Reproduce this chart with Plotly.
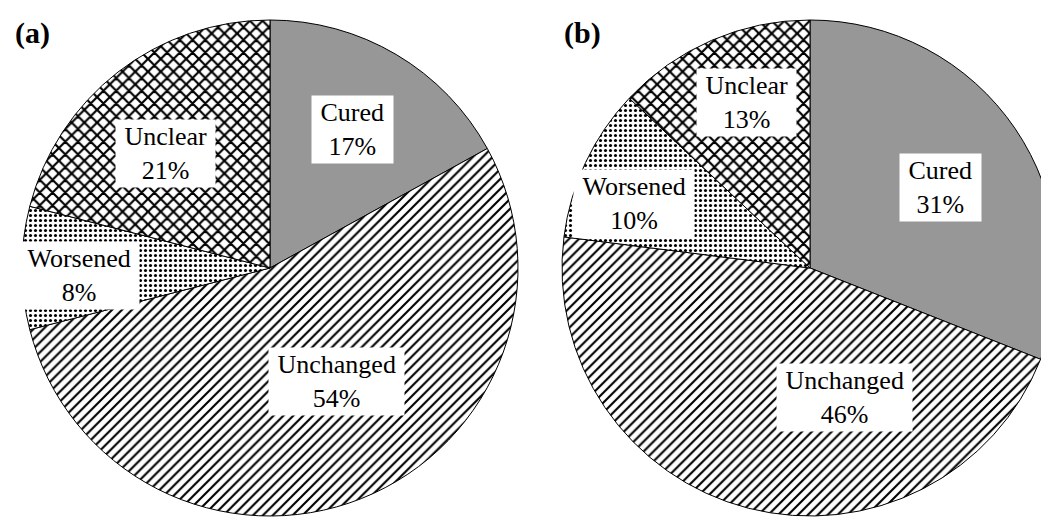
import plotly.graph_objects as go

categories = ["Cured", "Unchanged", "Worsened", "Unclear"]
values_a = [17, 54, 8, 21]
values_b = [31, 46, 10, 13]
panel_labels = ["(a)", "(b)"]

# the html body adds an 8px margin, so figure coords = screen coords - 8
W, H = 1050, 517
FONT = "Times New Roman, Liberation Serif, serif"

# slice styling (order follows categories)
fill_colors = ["#979797", "white", "white", "white"]
shapes = ["", "/", ".", "x"]
pattern_sizes = [8, 7, 5, 9]
pattern_solidity = [0.3, 0.3, 0.3, 0.42]

# pie domains in paper coordinates
dom_y = [1 - 508 / H, 1 - 12 / H]
domains = [[14 / W, 510 / W], [554 / W, 1.0]]
tag_x = [5, 554]

# label box centres, offsets from pie centre in units of radius (x right, y down)
label_offsets = [
    [(0.333, -0.558), (0.268, 0.458), (-0.770, 0.032), (-0.423, -0.460)],
    [(0.528, -0.323), (0.141, 0.524), (-0.710, -0.262), (-0.258, -0.669)],
]

fig = go.Figure()
annotations = []

for values, dom_x, offsets, tag, tx in zip([values_a, values_b], domains, label_offsets, panel_labels, tag_x):
    fig.add_trace(
        go.Pie(
            labels=categories,
            values=values,
            sort=False,
            direction="clockwise",
            rotation=0,
            domain=dict(x=dom_x, y=dom_y),
            textinfo="none",
            hoverinfo="label+percent",
            showlegend=False,
            marker=dict(
                colors=fill_colors,
                line=dict(color="black", width=1),
                pattern=dict(
                    shape=shapes,
                    fgcolor="black",
                    size=pattern_sizes,
                    solidity=pattern_solidity,
                    fillmode="replace",
                ),
            ),
        )
    )

    w_px = (dom_x[1] - dom_x[0]) * W
    h_px = (dom_y[1] - dom_y[0]) * H
    r_px = min(w_px, h_px) / 2
    cx = (dom_x[0] + dom_x[1]) / 2
    cy = (dom_y[0] + dom_y[1]) / 2

    total = sum(values)
    for cat, v, (dx, dy) in zip(categories, values, offsets):
        pct = round(100 * v / total)
        annotations.append(
            dict(
                x=cx + dx * r_px / W,
                y=cy - dy * r_px / H,
                xref="paper",
                yref="paper",
                text=f"\u00a0{cat}\u00a0<br>{pct}%",
                showarrow=False,
                bgcolor="white",
                borderpad=2,
                font=dict(family=FONT, size=26, color="black"),
                xanchor="center",
                yanchor="middle",
            )
        )

    annotations.append(
        dict(
            x=tx / W,
            y=1 - 25 / H,
            xref="paper",
            yref="paper",
            text=f"<b>{tag}</b>",
            showarrow=False,
            font=dict(family=FONT, size=30, color="black"),
            xanchor="left",
            yanchor="middle",
        )
    )

fig.update_layout(
    width=W,
    height=H,
    margin=dict(l=0, r=0, t=0, b=0),
    paper_bgcolor="white",
    plot_bgcolor="white",
    annotations=annotations,
)

fig.write_html("out.html")
